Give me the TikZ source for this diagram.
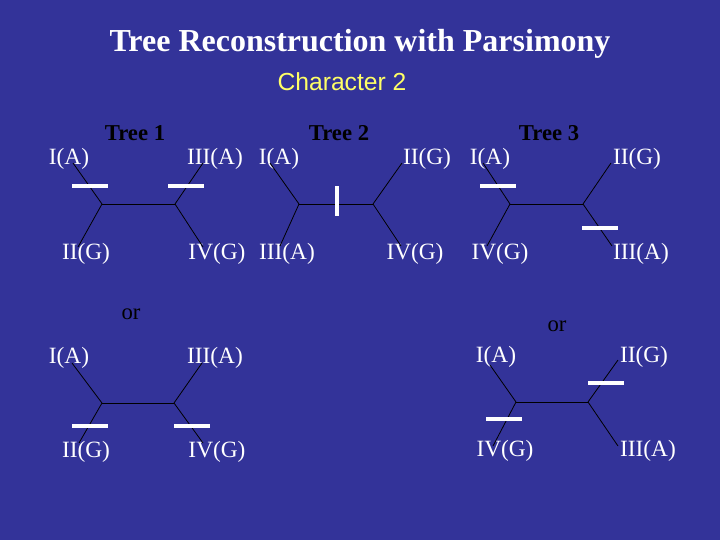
\documentclass[tikz,border=0pt]{standalone}
\usepackage{fontspec}
\setmainfont{Liberation Serif}
\newfontfamily\arialfont{Liberation Sans}
\usetikzlibrary{positioning}
\definecolor{slideblue}{RGB}{51,51,153}
\definecolor{charyellow}{RGB}{255,255,102}

\begin{document}
\begin{tikzpicture}[
    x=0.75pt, y=-0.75pt,
    taxon/.style={inner sep=0pt, text=white, font=\fontsize{17.5}{20}\selectfont},
    treename/.style={inner sep=0pt, font=\fontsize{17}{19}\selectfont\bfseries},
    branch/.style={draw=black, line width=0.6pt},
    hbar/.style={fill=white, inner sep=0pt, minimum width=27pt, minimum height=3pt},
    vbar/.style={fill=white, inner sep=0pt, minimum width=3pt, minimum height=22pt}
]
    \fill[slideblue] (0,0) rectangle (720,540);
    \useasboundingbox (0,0) rectangle (720,540);

    % titles
    \node[inner sep=0pt, text=white, font=\fontsize{24}{28}\selectfont\bfseries] (title) at (360,44) {Tree Reconstruction with Parsimony};
    \node[inner sep=0pt, text=charyellow, font=\arialfont\fontsize{18.5}{22}\selectfont] (char) at (342,82) {Character 2};

    \node[treename] (tn1) at (135,133) {Tree 1};
    \node[treename] (tn2) at (339,133) {Tree 2};
    \node[treename] (tn3) at (549,133) {Tree 3};

    % Tree 1
    \node[taxon] (t1a) at (69,159) {I(A)};
    \node[taxon] (t1c) at (215,159) {III(A)};
    \node[taxon] (t1b) at (86,254) {II(G)};
    \node[taxon] (t1d) at (217,254) {IV(G)};
    \coordinate (j1l) at (102,204);
    \coordinate (j1r) at (175,204);
    \coordinate (e1a) at (73,163);
    \coordinate (e1b) at (78,247);
    \coordinate (e1c) at (203,163);
    \coordinate (e1d) at (203,247);
    \draw[branch] (e1a) -- (j1l) -- (e1b);
    \draw[branch] (j1l) -- (j1r);
    \draw[branch] (e1c) -- (j1r) -- (e1d);
    \node[hbar] (m1a) at (90,186) {};
    \node[hbar] (m1b) at (186,186) {};

    % Tree 2
    \node[taxon] (t2a) at (279,159) {I(A)};
    \node[taxon] (t2b) at (427,159) {II(G)};
    \node[taxon] (t2c) at (287,254) {III(A)};
    \node[taxon] (t2d) at (415,254) {IV(G)};
    \coordinate (j2l) at (299,204);
    \coordinate (j2r) at (373,204);
    \coordinate (e2a) at (270,163);
    \coordinate (e2c) at (280,246);
    \coordinate (e2b) at (402,163);
    \coordinate (e2d) at (401,246);
    \draw[branch] (e2a) -- (j2l) -- (e2c);
    \draw[branch] (j2l) -- (j2r);
    \draw[branch] (e2b) -- (j2r) -- (e2d);
    \node[vbar] (m2a) at (337,201) {};

    % Tree 3
    \node[taxon] (t3a) at (490,159) {I(A)};
    \node[taxon] (t3b) at (637,159) {II(G)};
    \node[taxon] (t3d) at (500,254) {IV(G)};
    \node[taxon] (t3c) at (641,254) {III(A)};
    \coordinate (j3l) at (510,204);
    \coordinate (j3r) at (583,204);
    \coordinate (e3a) at (483,163);
    \coordinate (e3d) at (487,246);
    \coordinate (e3b) at (611,163);
    \coordinate (e3c) at (612,246);
    \draw[branch] (e3a) -- (j3l) -- (e3d);
    \draw[branch] (j3l) -- (j3r);
    \draw[branch] (e3b) -- (j3r) -- (e3c);
    \node[hbar] (m3a) at (498,186) {};
    \node[hbar] (m3b) at (600,228) {};

    % alternatives
    \node[inner sep=0pt, font=\fontsize{17}{19}\selectfont] (or1) at (131,314) {or};
    \node[inner sep=0pt, font=\fontsize{17}{19}\selectfont] (or2) at (557,326) {or};

    % Tree 1, second placement
    \node[taxon] (u1a) at (69,358) {I(A)};
    \node[taxon] (u1c) at (215,358) {III(A)};
    \node[taxon] (u1b) at (86,452) {II(G)};
    \node[taxon] (u1d) at (217,452) {IV(G)};
    \coordinate (k1l) at (102,403);
    \coordinate (k1r) at (174,403);
    \coordinate (f1a) at (72,363);
    \coordinate (f1b) at (79,443);
    \coordinate (f1c) at (202,363);
    \coordinate (f1d) at (203,443);
    \draw[branch] (f1a) -- (k1l) -- (f1b);
    \draw[branch] (k1l) -- (k1r);
    \draw[branch] (f1c) -- (k1r) -- (f1d);
    \node[hbar] (n1a) at (90,426) {};
    \node[hbar] (n1b) at (192,426) {};

    % Tree 3, second placement
    \node[taxon] (u3a) at (496,357) {I(A)};
    \node[taxon] (u3b) at (644,357) {II(G)};
    \node[taxon] (u3d) at (505,451) {IV(G)};
    \node[taxon] (u3c) at (648,451) {III(A)};
    \coordinate (k3l) at (516,402);
    \coordinate (k3r) at (588,402);
    \coordinate (f3a) at (490,365);
    \coordinate (f3d) at (493,446);
    \coordinate (f3b) at (618,360);
    \coordinate (f3c) at (618,446);
    \draw[branch] (f3a) -- (k3l) -- (f3d);
    \draw[branch] (k3l) -- (k3r);
    \draw[branch] (f3b) -- (k3r) -- (f3c);
    \node[hbar] (n3a) at (504,419) {};
    \node[hbar] (n3b) at (606,383) {};
\end{tikzpicture}
\end{document}
